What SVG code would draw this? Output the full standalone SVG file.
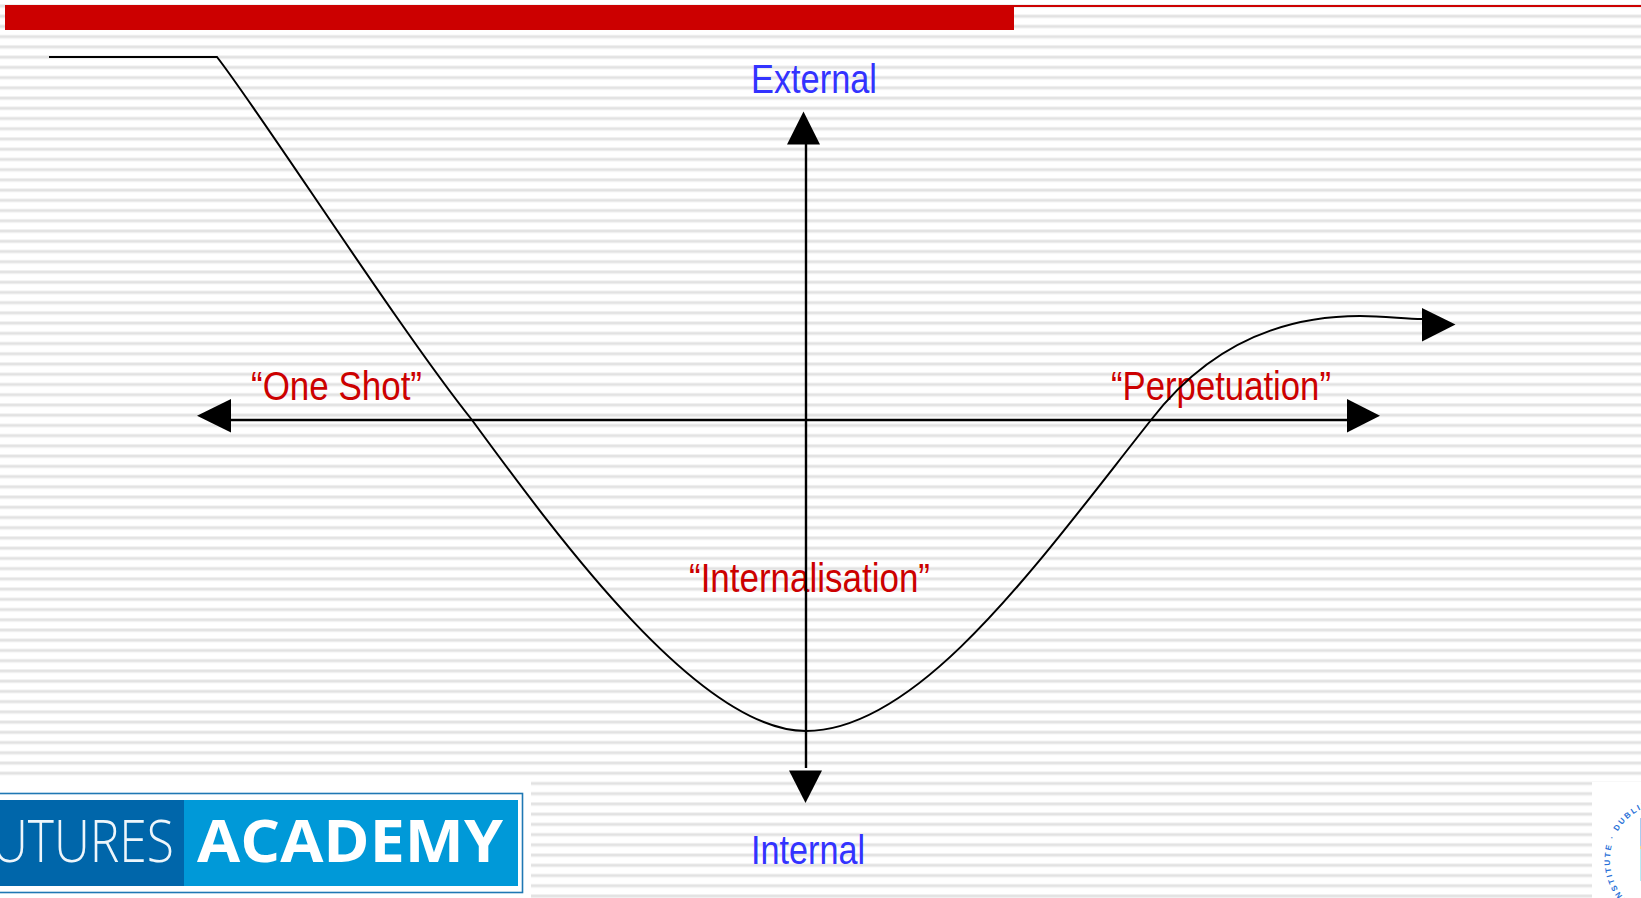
<svg xmlns="http://www.w3.org/2000/svg" width="1641" height="898" viewBox="0 0 1641 898">
<style>
.t{font-family:"Liberation Sans",Arial,sans-serif;font-size:41px}
.b{fill:#3333ff}.r{fill:#cc0000}
.ln{fill:none;stroke:#000;stroke-width:2}
.ax{fill:none;stroke:#000;stroke-width:2.4}
</style>
<defs>
<pattern id="st" width="1641" height="10.23" patternUnits="userSpaceOnUse" y="4">
<rect width="1641" height="10.23" fill="#fff"/>
<rect y="0" width="1641" height="4" fill="#f1f1f1"/>
<rect y="1" width="1641" height="2" fill="#e2e2e2"/>
</pattern>
</defs>
<rect width="1641" height="898" fill="url(#st)"/>
<rect x="0" y="777" width="531" height="121" fill="#fff"/>
<rect x="1592" y="782" width="49" height="116" fill="#fff"/>
<g id="header">
<rect x="5" y="5" width="1009" height="25" fill="#cc0000"/>
<rect x="1014" y="5" width="627" height="2" fill="#cc0000"/>
</g>
<g id="label-external"><text class="t b" x="751" y="93" textLength="126" lengthAdjust="spacingAndGlyphs">External</text></g>
<g id="label-internal"><text class="t b" x="751" y="864" textLength="114" lengthAdjust="spacingAndGlyphs">Internal</text></g>
<g id="label-oneshot"><text class="t r" x="251" y="400" textLength="171" lengthAdjust="spacingAndGlyphs">“One Shot”</text></g>
<g id="label-internalisation"><text class="t r" x="689" y="592" textLength="241" lengthAdjust="spacingAndGlyphs">“Internalisation”</text></g>
<g id="label-perpetuation"><text class="t r" x="1111" y="400" textLength="220" lengthAdjust="spacingAndGlyphs">“Perpetuation”</text></g>
<g id="connectors">
<path class="ax" d="M231 420H1347"/>
<path class="ax" d="M806 144V768"/>
<polygon points="197,415.7 231,399 231,432.5"/>
<polygon points="1380,415.7 1347,399 1347,432.5"/>
<polygon points="803.5,111.5 787,144.5 820,144.5"/>
<polygon points="805.5,803 789,770.5 822,770.5"/>
<path class="ln" d="M49 57H217C260 112 400 330 472 420C560 540 700 731 806 731C920 731 1040 560 1151 420C1205 350 1275 316 1360 316C1385 316 1405 319 1422 319"/>
<polygon points="1455.5,324.5 1422,308 1422,341.5"/>
</g>
<g id="logo">
<rect x="-2" y="793.5" width="524.5" height="99" fill="#fff" stroke="#1f78b4" stroke-width="1.6"/>
<rect x="-2" y="800" width="186" height="86" fill="#0066aa"/>
<rect x="184" y="800" width="334" height="86" fill="#0099d8"/>
<text x="-8" y="862" font-family="'Open Sans',sans-serif" font-weight="300" font-size="59" fill="#eef6fb" textLength="182" lengthAdjust="spacingAndGlyphs">UTURES</text>
<text x="197" y="862" font-family="'Open Sans',sans-serif" font-weight="700" font-size="59" fill="#fff" textLength="306" lengthAdjust="spacingAndGlyphs">ACADEMY</text>
</g>
<g id="seal">
<path id="ring" d="M1625.4 899A57 57 0 0 1 1667 803" fill="none"/>
<text font-family="'Liberation Sans',sans-serif" font-weight="700" font-size="8" fill="#2a72d8" letter-spacing="2"><textPath href="#ring">INSTITUTE · DUBLIN I</textPath></text>
<rect x="1640" y="818" width="1" height="28" fill="#a8ccf0"/>
<rect x="1640" y="846" width="1" height="3" fill="#f5d98a"/>
<rect x="1640" y="849" width="1" height="32" fill="#b5ecf5"/>
</g>
</svg>
